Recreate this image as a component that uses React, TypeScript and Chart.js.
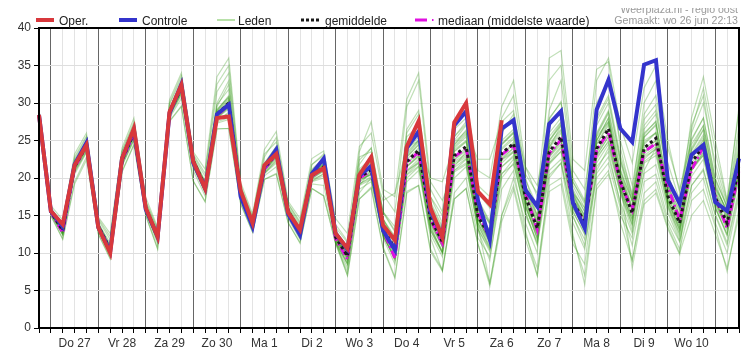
import React, { useEffect, useRef } from "react";
import { Chart, registerables } from "chart.js";

Chart.register(...registerables);

const FONT = '"Liberation Sans", Arial, Helvetica, sans-serif';

// time axis: 6-hourly steps starting Wed 26 Jun 18:00
const dayNames = ["Do 27", "Vr 28", "Za 29", "Zo 30", "Ma 1", "Di 2", "Wo 3", "Do 4", "Vr 5", "Za 6", "Zo 7", "Ma 8", "Di 9", "Wo 10"];
const firstHour = 18;
const stepHours = 6;
const pointCount = 60;

const yTicks = { min: 0, max: 40, step: 5 };

const oper = [28.4,15.6,13.8,21.7,24.4,13.4,10.0,22.6,26.6,16.0, 12.2,28.8,32.4,22.2,18.6,28.0,28.2,18.3,14.0,21.7, 23.2,15.4,13.1,20.4,21.3,12.6,10.6,20.4,22.8,13.7, 11.7,24.2,27.6,16.0,12.1,27.4,30.0,18.2,16.5,27.7];

const controle = [28.4,15.6,13.5,21.8,24.7,13.4,10.2,22.6,26.4,15.8, 12.2,28.6,32.5,22.0,18.6,28.5,29.8,17.5,13.5,21.5, 23.8,15.2,12.4,20.6,22.6,12.6,10.5,20.3,21.6,13.0, 10.4,24.0,26.2,15.5,12.2,27.0,28.9,17.0,11.8,26.6, 27.7,18.4,16.2,27.2,28.9,16.7,13.3,29.1,33.1,26.6, 24.8,35.1,35.7,19.7,16.6,23.1,24.4,16.8,15.6,22.6];

const gemiddelde = [28.4,15.5,13.0,21.5,24.3,13.6,10.5,22.4,26.0,16.0, 12.2,28.8,32.0,22.3,18.9,28.5,30.0,17.8,14.0,21.3, 23.3,15.6,12.9,20.3,21.5,12.1,9.6,20.1,21.1,13.3, 10.6,22.2,23.7,14.6,11.5,23.0,24.2,14.9,12.2,23.3, 24.6,17.5,13.3,23.5,25.5,16.8,14.1,23.9,26.6,19.6, 15.3,24.0,25.3,17.6,14.0,22.0,24.4,17.4,14.0,21.5];

const mediaan = [28.4,15.5,12.7,21.4,24.2,13.5,10.4,22.3,25.9,15.9, 12.0,28.9,32.1,22.2,18.8,28.3,29.8,17.7,13.8,21.2, 23.1,15.5,12.7,20.2,21.4,11.9,9.2,20.0,21.0,13.1, 9.3,22.0,23.5,14.5,11.3,22.8,24.0,15.3,12.0,23.1, 24.4,18.0,13.1,23.3,25.1,16.6,14.0,23.7,26.2,19.3, 15.7,23.5,24.6,18.8,14.4,21.1,24.2,17.5,13.3,21.0];

// ensemble members (Leden)
const lid01 = [29.2,16.3,14.4,23.2,26.0,14.8,12.6,24.0,28.0,17.4, 13.4,30.4,34.0,23.5,21.2,33.5,36.0,19.4,15.2,23.8, 26.2,16.9,14.6,22.6,23.6,14.6,12.6,24.2,26.0,17.8, 15.5,29.5,33.0,18.5,15.5,26.5,28.0,19.0,17.5,28.0, 31.0,20.5,18.0,33.0,35.0,21.0,18.5,30.0,33.0,25.0, 19.0,28.5,31.0,22.0,17.0,26.0,30.0,22.0,16.5,27.0];
const lid02 = [27.9,15.0,11.8,19.2,22.4,12.5,9.2,20.8,24.4,15.0, 10.6,27.5,29.5,19.6,16.9,26.5,26.6,16.6,12.8,19.8, 20.6,14.1,11.3,18.6,17.6,11.2,7.0,17.2,18.6,10.6, 6.6,18.0,19.0,10.2,7.6,17.2,18.6,11.2,6.0,15.0, 19.0,12.5,8.0,19.0,20.0,12.0,7.0,19.0,21.0,14.0, 9.0,17.0,18.5,13.5,10.0,15.0,17.0,12.5,8.0,15.0];
const lid03 = [28.5,15.6,13.2,21.8,24.6,13.8,10.8,22.6,26.3,16.2, 12.4,29.0,32.4,22.6,19.3,29.0,31.0,18.0,14.2,21.6, 23.8,15.9,13.2,20.8,22.0,12.5,10.2,21.0,22.0,14.0, 11.5,23.5,25.0,15.5,12.5,24.0,25.5,15.5,13.0,24.5, 26.0,18.5,14.5,25.0,27.0,17.5,15.0,25.0,28.0,21.0, 16.0,25.5,27.0,18.5,15.0,23.0,25.5,18.5,15.0,22.5];
const lid04 = [28.3,15.4,12.7,21.2,24.0,13.4,10.2,22.1,25.7,15.8, 12.0,28.6,31.6,22.0,18.6,28.0,29.2,17.6,13.8,21.0, 22.9,15.3,12.6,20.0,21.0,11.8,9.2,19.5,20.5,12.7, 9.8,21.0,22.5,13.8,10.8,22.0,23.0,14.0,11.0,22.0, 23.5,16.5,12.0,22.0,24.0,16.0,13.0,22.5,25.0,18.5, 14.5,22.5,24.0,16.5,13.0,21.0,23.5,16.5,13.0,20.5];
const lid05 = [28.8,15.9,13.8,22.5,25.4,14.4,11.8,23.5,27.2,16.8, 13.0,29.8,33.2,23.0,20.2,31.5,34.0,18.8,14.7,22.8, 25.4,16.5,14.0,21.8,23.2,13.4,11.4,22.4,24.0,15.4, 12.8,26.0,28.5,16.8,13.5,25.0,27.0,17.0,14.0,26.0, 28.5,19.0,16.0,29.0,33.0,20.0,17.0,33.0,36.0,27.0, 22.0,32.0,35.0,25.0,18.0,27.0,31.0,21.0,16.0,26.0];
const lid06 = [28.2,15.3,12.5,20.8,23.6,13.2,9.8,21.8,25.2,15.6, 11.5,28.2,31.0,21.5,18.0,27.5,28.0,17.2,13.4,20.6, 22.0,14.9,12.0,19.5,20.0,11.6,8.5,18.5,19.5,12.0, 8.5,19.5,21.0,12.5,9.5,20.0,21.5,13.0,9.0,20.0, 22.0,15.5,11.0,24.0,27.0,18.0,15.0,26.0,29.0,22.0, 17.0,27.0,29.0,20.0,16.0,24.0,27.0,19.0,15.5,24.0];
const lid07 = [28.4,15.5,13.1,21.6,24.4,13.6,10.6,22.4,26.1,16.0, 12.2,28.9,32.1,22.4,19.0,29.5,32.5,17.9,14.0,21.4, 23.5,15.7,13.0,20.5,21.8,12.3,9.8,23.5,27.5,18.5, 17.5,30.5,34.0,19.5,17.0,21.0,22.5,13.5,6.0,15.0, 20.0,14.0,10.0,36.0,37.0,22.5,21.0,34.5,35.5,24.0, 17.5,25.0,26.0,17.0,13.5,21.5,23.0,17.0,13.5,21.0];
const lid08 = [28.3,15.4,12.8,21.0,23.8,13.5,10.3,22.2,25.8,15.9, 11.9,28.5,31.4,21.8,18.4,28.2,29.5,17.5,13.6,20.8, 22.6,15.0,12.3,19.8,20.5,11.5,7.0,17.2,18.8,10.8, 6.8,18.2,19.0,10.5,7.8,18.0,20.0,12.0,9.5,18.5, 21.0,13.0,7.0,20.0,22.0,12.5,5.8,18.5,20.5,15.0, 12.0,21.0,24.0,19.0,16.5,28.0,33.5,25.0,17.0,29.0];
const lid09 = [28.5,15.6,13.0,21.5,24.2,13.7,10.4,22.5,26.0,16.1, 12.3,28.8,32.0,22.2,18.8,28.4,29.8,17.8,14.1,21.3, 23.2,15.6,12.9,20.3,21.6,12.1,9.7,20.2,21.3,13.4, 10.5,22.5,24.0,14.8,11.8,23.5,24.8,15.2,12.5,23.0, 24.5,17.0,12.5,22.0,23.5,15.0,11.0,20.0,22.0,16.0, 9.0,18.0,19.5,14.0,10.5,17.0,18.5,13.5,7.5,16.0];
const lid10 = [28.7,16.0,14.0,22.8,25.6,14.6,12.2,23.6,27.5,16.9, 13.2,30.0,33.6,23.2,20.6,32.5,35.0,18.9,14.9,23.2, 24.8,16.6,14.2,21.8,23.0,13.8,11.6,22.8,23.5,15.5, 13.5,25.5,27.0,17.5,15.0,27.5,30.0,21.0,20.0,29.5, 33.0,21.5,19.0,27.0,29.0,19.0,16.0,25.5,27.5,20.0, 15.5,24.0,25.0,17.5,14.0,22.0,24.0,17.0,13.5,20.5];
const lid11 = [28.2,15.3,12.4,20.5,23.4,13.0,9.6,21.6,25.0,15.4, 11.2,28.0,30.6,21.0,17.6,27.3,27.8,17.0,13.2,20.3, 21.5,14.6,11.8,19.2,19.0,11.4,8.0,18.0,20.0,12.5, 9.0,20.5,22.0,13.0,10.0,21.5,23.5,14.5,11.5,21.5, 23.0,16.0,12.5,23.0,25.0,17.0,14.5,28.0,31.0,23.0, 18.0,30.0,33.0,24.0,18.5,25.0,28.0,20.0,16.0,23.0];
const lid12 = [28.4,15.5,12.9,21.4,24.1,13.5,10.5,22.3,25.9,16.0, 12.1,28.7,31.8,22.1,18.7,28.3,29.6,17.7,13.9,21.2, 23.0,15.5,12.8,20.2,21.3,12.0,9.4,20.0,21.0,13.2, 10.4,22.0,23.5,14.5,11.2,22.8,24.0,14.6,11.8,23.0, 24.8,17.8,13.8,24.0,26.0,17.2,14.5,24.5,27.0,20.0, 15.8,24.5,26.0,18.0,14.5,22.5,25.0,17.8,14.5,22.0];
const lid13 = [28.1,15.0,11.9,19.5,22.8,12.6,9.3,20.9,24.5,15.0, 10.5,27.6,29.6,19.6,16.8,26.6,26.6,16.5,12.8,19.8, 20.5,14.0,11.4,18.6,17.6,11.3,7.5,19.0,21.0,13.0, 9.5,21.0,22.0,12.0,7.6,17.2,18.6,11.2,5.6,14.2, 18.5,11.8,7.0,18.2,19.2,11.2,8.5,21.0,24.0,18.0, 13.0,22.0,23.0,16.0,12.0,19.0,21.0,15.0,11.0,18.0];
const lid14 = [28.7,15.8,13.3,21.9,24.9,13.9,10.9,22.8,26.5,16.3, 12.5,29.2,32.6,22.7,19.4,30.0,33.0,18.2,14.3,21.9, 24.2,16.0,13.3,21.0,22.5,12.8,10.6,21.8,24.0,15.5, 13.0,26.5,29.0,17.5,14.0,25.5,27.5,18.0,16.0,26.5, 28.0,21.5,17.5,28.0,30.0,19.5,16.5,27.0,30.0,22.5, 17.0,26.5,28.5,20.5,16.0,24.5,27.0,19.5,15.0,24.0];
const lid15 = [28.3,15.4,12.6,21.1,23.9,13.3,10.1,22.0,25.5,15.7, 11.7,28.4,31.2,21.6,18.2,27.8,28.6,17.4,13.5,20.7, 22.2,15.2,12.2,19.6,20.3,11.7,8.8,19.2,20.2,12.3, 9.2,20.0,21.5,13.2,10.2,21.0,22.0,13.2,10.5,20.5, 22.5,15.0,11.5,21.0,22.5,14.0,10.5,21.5,23.5,16.5, 11.0,19.5,20.5,14.5,11.5,18.0,20.0,14.0,10.0,17.5];
const lid16 = [28.5,15.7,13.3,21.7,24.5,13.9,10.7,22.7,26.2,16.2, 12.4,29.1,32.3,22.5,19.2,29.2,30.8,18.1,14.2,21.7, 23.9,15.8,13.1,20.6,21.9,12.4,10.0,20.5,21.5,17.0, 18.0,24.0,25.0,20.0,19.5,24.5,26.0,22.5,22.5,27.5, 29.0,20.0,15.0,24.5,26.5,18.0,14.0,23.0,25.5,19.0, 14.0,23.5,24.5,17.0,13.0,21.0,23.0,16.0,12.5,20.0];
const lid17 = [28.4,15.5,13.0,21.4,24.3,13.6,10.4,22.4,25.9,16.0, 12.2,28.8,32.0,22.3,18.9,28.5,29.9,17.8,14.0,21.2, 23.2,15.5,12.8,20.1,21.4,12.0,9.5,20.3,21.2,13.5, 10.8,22.8,24.5,15.0,12.0,23.8,25.0,15.8,12.8,24.0, 25.5,18.0,14.0,26.0,28.0,18.5,15.5,25.0,27.5,19.5, 8.0,16.5,18.0,13.2,9.8,26.5,32.0,23.5,16.8,29.5];
const lid18 = [28.4,15.5,12.9,21.3,24.2,13.6,10.4,22.3,26.0,15.9, 12.1,28.7,31.9,22.2,18.9,28.6,30.2,17.9,14.0,21.3, 23.4,15.6,12.9,20.4,21.7,12.2,9.6,19.8,20.8,13.0, 10.2,21.5,23.0,14.2,11.0,22.5,23.8,14.5,11.5,22.5, 24.0,17.2,13.0,23.0,25.0,16.5,13.5,23.5,26.0,19.0, 15.0,23.5,25.0,17.5,14.0,21.5,24.0,17.0,14.0,21.0];
const lid19 = [28.6,15.8,13.6,22.3,25.0,14.0,11.3,23.0,26.8,16.4, 12.7,29.2,32.8,22.8,19.6,29.8,31.8,18.3,14.4,22.0, 24.2,16.0,13.5,21.2,22.6,12.8,10.5,21.2,22.6,14.5, 12.0,23.8,25.5,16.0,13.0,24.8,26.2,16.5,13.8,25.0, 26.5,19.0,14.8,25.5,27.5,18.2,15.5,25.8,28.8,21.2, 16.8,26.0,27.5,19.0,15.5,23.8,26.5,18.8,15.5,23.2];
const lid20 = [28.2,15.2,12.4,20.8,23.5,13.2,9.8,21.7,25.2,15.5, 11.6,28.3,31.3,21.6,18.2,27.6,28.8,17.2,13.5,20.6, 22.4,15.1,12.3,19.6,20.6,11.5,8.6,19.0,19.8,12.4, 9.4,20.8,22.2,13.4,10.2,21.4,22.6,13.6,10.8,21.5, 22.8,16.2,12.0,21.8,23.6,15.5,12.6,22.0,24.5,18.0, 13.8,22.2,23.4,16.2,12.6,20.2,22.5,16.0,12.5,19.8];
const lid21 = [28.4,15.8,13.5,21.2,23.9,14.0,11.0,22.0,25.6,16.4, 12.8,28.4,31.5,22.6,19.4,28.0,29.4,18.2,14.6,21.0, 22.8,16.2,13.8,20.0,21.0,13.0,10.8,19.8,20.5,14.5, 12.2,21.5,22.8,15.8,13.0,22.2,23.2,16.2,14.0,22.5, 23.6,18.6,15.0,22.8,24.5,18.0,16.0,23.0,25.5,20.8, 17.0,23.0,24.2,18.8,15.8,21.2,23.4,18.6,15.8,20.8];
const lid22 = [28.4,15.2,12.5,21.8,24.7,13.2,9.9,22.8,26.5,15.6, 11.6,29.2,32.6,22.0,18.4,29.0,30.8,17.4,13.4,21.7, 23.9,15.1,12.2,20.7,22.2,11.4,8.5,20.6,22.0,12.4, 9.2,23.2,25.0,13.6,10.0,24.2,25.8,13.8,10.6,24.6, 26.2,16.4,11.8,25.0,27.4,15.6,12.4,25.6,28.6,18.4, 13.6,25.8,27.6,16.4,12.4,23.6,26.4,16.2,12.2,23.2];
const lid23 = [28.4,15.5,13.1,21.6,24.4,13.6,10.6,22.5,26.1,16.0, 12.3,28.9,32.1,22.4,19.0,28.8,30.4,17.9,14.1,21.5, 23.6,15.7,13.0,20.5,21.8,12.3,9.9,20.6,21.6,13.8, 11.2,22.8,24.4,15.2,12.2,23.6,24.9,15.6,12.9,23.8, 25.2,17.9,13.9,24.2,26.3,17.3,14.6,24.5,27.3,20.3, 15.9,24.7,26.1,18.2,14.7,22.6,25.2,18.0,14.6,22.2];
const lid24 = [28.4,15.4,12.8,21.3,24.1,13.5,10.3,22.2,25.8,15.9, 12.0,28.6,31.8,22.1,18.7,28.2,29.6,17.6,13.9,21.1, 23.0,15.4,12.7,20.0,21.2,11.9,9.3,19.6,20.6,12.9, 10.1,21.6,23.0,14.1,11.0,22.4,23.6,14.4,11.6,22.7, 24.0,17.0,12.8,22.8,24.8,16.3,13.6,23.3,25.9,19.0, 14.8,23.3,24.6,17.0,13.5,21.4,23.8,16.8,13.4,21.0];
const lid25 = [28.5,15.6,13.2,21.7,24.5,13.7,10.7,22.6,26.2,16.1, 12.3,29.0,32.2,22.4,19.1,28.9,30.6,18.0,14.1,21.5, 23.5,15.8,13.1,20.6,21.9,12.5,10.1,20.8,22.2,14.2, 11.8,24.5,26.5,16.5,13.2,25.5,27.2,17.2,14.2,26.2, 27.8,19.8,16.2,27.8,30.2,19.5,16.8,27.6,30.6,22.4, 17.6,27.8,29.8,20.4,16.4,25.2,28.0,19.8,16.2,24.8];
const lid26 = [28.3,15.4,12.8,21.3,24.1,13.4,10.3,22.2,25.8,15.8, 12.0,28.6,31.7,22.1,18.6,28.1,29.4,17.6,13.8,21.0, 22.8,15.3,12.6,19.9,20.9,11.7,9.1,19.2,20.0,12.2, 9.4,20.4,21.6,13.0,10.0,20.8,21.8,13.2,10.2,20.6, 21.8,15.4,11.2,20.4,22.0,14.8,11.8,20.6,22.8,16.8, 12.6,20.6,21.8,15.4,11.6,19.0,21.2,15.2,11.4,18.6];
const lid27 = [28.5,15.6,13.0,21.6,24.4,13.7,10.4,22.4,26.0,16.1, 12.2,28.9,32.2,22.5,19.0,28.6,30.2,17.9,14.0,21.4, 23.4,15.7,12.9,20.4,21.6,12.0,9.4,20.6,22.6,14.6, 11.4,22.0,23.2,14.0,10.8,24.4,26.4,16.0,12.6,22.4, 23.4,16.8,12.6,24.8,27.2,17.8,14.8,22.8,24.8,18.4, 14.4,25.4,27.2,18.8,15.0,21.0,23.2,16.6,13.4,22.6];
const lid28 = [28.4,15.5,12.9,21.4,24.2,13.5,10.5,22.3,25.9,16.0, 12.2,28.8,31.9,22.2,18.8,28.5,29.9,17.8,14.0,21.3, 23.2,15.5,12.8,20.2,21.4,12.2,9.8,19.8,20.4,12.6, 10.2,23.0,24.8,15.4,12.4,21.8,22.8,14.0,11.4,24.4, 26.0,18.2,14.2,22.4,24.2,16.0,13.4,25.0,28.0,20.4, 16.2,22.8,23.8,16.8,13.2,23.2,25.8,18.2,14.8,20.4];

const leden = [lid01, lid02, lid03, lid04, lid05, lid06, lid07, lid08, lid09, lid10, lid11, lid12, lid13, lid14, lid15, lid16, lid17, lid18, lid19, lid20, lid21, lid22, lid23, lid24, lid25, lid26, lid27, lid28];

// build tick labels: day name at 12:00, empty otherwise
const timeLabels: string[] = [];
for (let i = 0; i < pointCount; i++) {
  const h = firstHour + i * stepHours;
  const hour = h % 24;
  const day = Math.floor(h / 24) - 1;
  timeLabels.push(hour === 12 && day >= 0 && day < dayNames.length ? dayNames[day] : "");
}
const isMidnight = (i: number) => (firstHour + i * stepHours) % 24 === 0;

const RED = "#d8383c";
const BLUE = "#3434cc";
const MEMBER = "rgba(48,150,18,0.3)";
const MAGENTA = "#e010e0";

const framePlugin = {
  id: "frame",
  afterDraw(chart: any) {
    const { ctx, chartArea: a } = chart;
    ctx.save();
    ctx.strokeStyle = "#000";
    ctx.lineWidth = 2;
    ctx.strokeRect(a.left, a.top, a.right - a.left, a.bottom - a.top);
    ctx.restore();
  },
};

export default function App() {
  const ref = useRef<HTMLCanvasElement>(null);

  useEffect(() => {
    Chart.defaults.font.family = FONT;
    Chart.defaults.font.size = 12;
    const datasets: any[] = [
      { label: "Oper.", data: oper, borderColor: RED, borderWidth: 4 },
      { label: "Controle", data: controle, borderColor: BLUE, borderWidth: 4 },
      { label: "gemiddelde", data: gemiddelde, borderColor: "#1a1a1a", borderWidth: 3, borderDash: [3, 3] },
      { label: "mediaan (middelste waarde)", data: mediaan, borderColor: MAGENTA, borderWidth: 3, borderDash: [8, 3, 2, 3] },
      ...leden.map((d, k) => ({ label: "Leden " + (k + 1), data: d, borderColor: MEMBER, borderWidth: 1.2 })),
    ];
    const chart = new Chart(ref.current as HTMLCanvasElement, {
      type: "line",
      data: { labels: timeLabels, datasets },
      options: {
        animation: false,
        responsive: false,
        layout: { padding: { top: 20, right: 8, left: 0, bottom: 0 } },
        plugins: { legend: { display: false }, tooltip: { enabled: false } },
        elements: { point: { radius: 0 }, line: { tension: 0, fill: false } },
        scales: {
          x: {
            type: "category",
            offset: false,
            grid: {
              color: (c: any) => (isMidnight(c.index) ? "#666" : "#e3e3e3"),
              tickColor: "#000",
              tickLength: 5,
              lineWidth: 1,
            },
            border: { color: "#000", width: 2 },
            ticks: { autoSkip: false, maxRotation: 0, minRotation: 0, padding: 3, color: "#333", font: { size: 12 } },
            afterFit: (s: any) => {
              s.height = 21;
            },
          },
          y: {
            min: yTicks.min,
            max: yTicks.max,
            ticks: { stepSize: yTicks.step, padding: 3, color: "#333", font: { size: 12 } },
            grid: { color: "#dedede", tickColor: "#000", tickLength: 5 },
            border: { color: "#000", width: 2 },
            afterFit: (s: any) => {
              s.width = 31;
            },
          },
        },
      } as any,
      plugins: [framePlugin],
    });
    return () => chart.destroy();
  }, []);

  const text: React.CSSProperties = {
    position: "absolute",
    top: 6,
    fontSize: 12,
    lineHeight: "14px",
    color: "#222",
    whiteSpace: "nowrap",
  };
  const wm: React.CSSProperties = {
    position: "absolute",
    right: 9,
    fontSize: 10.6,
    lineHeight: "12px",
    color: "#999",
    whiteSpace: "nowrap",
    textAlign: "right",
  };

  return (
    <div style={{ position: "relative", width: 739, height: 341, fontFamily: FONT }}>
      <canvas ref={ref} width={739} height={341} style={{ display: "block" }} />
      <svg width={739} height={20} style={{ position: "absolute", left: 0, top: 0 }}>
        <line x1={28} x2={46} y1={12} y2={12} stroke={RED} strokeWidth={4} />
        <line x1={111} x2={129} y1={12} y2={12} stroke={BLUE} strokeWidth={4} />
        <line x1={209} x2={227} y1={12} y2={12} stroke="rgb(160,215,140)" strokeWidth={1.5} />
        <line x1={293} x2={311} y1={12} y2={12} stroke="#1a1a1a" strokeWidth={3} strokeDasharray="3 2" />
        <line x1={407} x2={419} y1={12} y2={12} stroke={MAGENTA} strokeWidth={3} />
        <line x1={424} x2={425.5} y1={12} y2={12} stroke={MAGENTA} strokeWidth={2} />
      </svg>
      <span style={{ ...text, left: 51 }}>Oper.</span>
      <span style={{ ...text, left: 134 }}>Controle</span>
      <span style={{ ...text, left: 230 }}>Leden</span>
      <span style={{ ...text, left: 317 }}>gemiddelde</span>
      <span style={{ ...text, left: 430 }}>mediaan (middelste waarde)</span>
      <div style={{ ...wm, top: -5.5 }}>Weerplaza.nl - regio oost</div>
      <div style={{ ...wm, top: 6 }}>Gemaakt: wo 26 jun 22:13</div>
    </div>
  );
}
